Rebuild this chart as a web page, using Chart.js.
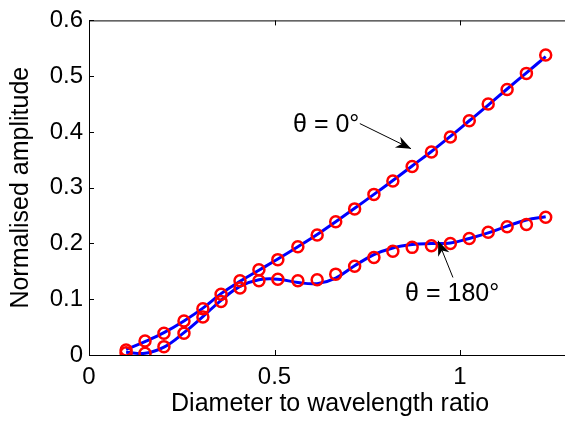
<!DOCTYPE html>
<html>
<head>
<meta charset="utf-8">
<script src="https://cdn.jsdelivr.net/npm/chart.js@4"></script>
<style>
    html, body { margin: 0; padding: 0; background: #fff; overflow: hidden; }
    #wrap { width: 565px; height: 423px; overflow: hidden; }
    #wrap div { width: 585px; height: 423px; }
</style>
</head>
<body>
<div id="wrap"><div><canvas id="ampChart" width="585" height="423"></canvas></div></div>
<script>
// diameter / wavelength ratio for each measured point
const ratio = [0.100, 0.151, 0.202, 0.256, 0.307, 0.356, 0.407, 0.458, 0.509, 0.563, 0.615, 0.665,
               0.716, 0.768, 0.819, 0.871, 0.923, 0.974, 1.025, 1.076, 1.127, 1.179, 1.231];

// theta = 0 deg
const measured0 = [0.009, 0.025, 0.039, 0.061, 0.083, 0.109, 0.133, 0.153, 0.171, 0.194, 0.215, 0.239,
                   0.262, 0.288, 0.312, 0.338, 0.364, 0.391, 0.420, 0.450, 0.476, 0.505, 0.538];
const model0 = [0.010, 0.024, 0.040, 0.061, 0.084, 0.110, 0.132, 0.152, 0.172, 0.194, 0.216, 0.239,
                0.263, 0.288, 0.313, 0.339, 0.365, 0.392, 0.420, 0.448, 0.477, 0.506, 0.535];

// theta = 180 deg
const measured180 = [0.004, 0.003, 0.015, 0.039, 0.068, 0.096, 0.120, 0.133, 0.136, 0.133, 0.135, 0.145,
                     0.159, 0.175, 0.186, 0.193, 0.196, 0.200, 0.209, 0.220, 0.230, 0.234, 0.247];
const model180 = [0.005, 0.003, 0.014, 0.040, 0.069, 0.098, 0.123, 0.135, 0.136, 0.130, 0.128, 0.138,
                  0.160, 0.180, 0.192, 0.198, 0.200, 0.201, 0.209, 0.219, 0.231, 0.242, 0.248];

const xTicks = [0, 0.5, 1];
const yTicks = [0, 0.1, 0.2, 0.3, 0.4, 0.5, 0.6];

const FONT = "'Liberation Sans', Arial, sans-serif";

const pts = (ys) => ratio.map((x, i) => ({ x: x, y: ys[i] }));

// box + inward ticks, matlab style
const boxPlugin = {
    id: 'box',
    afterDraw(chart) {
        const { ctx, chartArea: a, scales } = chart;
        ctx.save();
        ctx.strokeStyle = '#000';
        ctx.lineWidth = 1;
        ctx.strokeRect(a.left + 0.5, a.top + 0.5, a.right - a.left, a.bottom - a.top);
        ctx.beginPath();
        xTicks.forEach(v => {
            const px = Math.round(scales.x.getPixelForValue(v)) + 0.5;
            ctx.moveTo(px, a.bottom); ctx.lineTo(px, a.bottom - 5);
            ctx.moveTo(px, a.top); ctx.lineTo(px, a.top + 5);
        });
        yTicks.forEach(v => {
            const py = Math.round(scales.y.getPixelForValue(v)) + 0.5;
            ctx.moveTo(a.left, py); ctx.lineTo(a.left + 5, py);
            ctx.moveTo(a.right, py); ctx.lineTo(a.right - 5, py);
        });
        ctx.stroke();
        ctx.restore();
    }
};

// text labels with arrows (positions in data units)
const notes = [
    { text: 'θ = 0°', tx: 0.55, ty: 0.413, from: [0.730, 0.415], to: [0.868, 0.370] },
    { text: 'θ = 180°', tx: 0.852, ty: 0.110, from: [0.981, 0.139], to: [0.941, 0.205] }
];

const notePlugin = {
    id: 'notes',
    afterDatasetsDraw(chart) {
        const { ctx, scales } = chart;
        ctx.save();
        ctx.fillStyle = '#000';
        ctx.strokeStyle = '#000';
        ctx.font = '25px ' + FONT;
        ctx.textBaseline = 'middle';
        ctx.textAlign = 'left';
        notes.forEach(n => {
            ctx.fillText(n.text, scales.x.getPixelForValue(n.tx), scales.y.getPixelForValue(n.ty));
            const x1 = scales.x.getPixelForValue(n.from[0]), y1 = scales.y.getPixelForValue(n.from[1]);
            const x2 = scales.x.getPixelForValue(n.to[0]), y2 = scales.y.getPixelForValue(n.to[1]);
            const ang = Math.atan2(y2 - y1, x2 - x1);
            ctx.lineWidth = 1;
            ctx.beginPath();
            ctx.moveTo(x1, y1); ctx.lineTo(x2, y2);
            ctx.stroke();
            // arrow head
            const L = 15, W = 6;
            ctx.beginPath();
            ctx.moveTo(x2, y2);
            ctx.lineTo(x2 - L * Math.cos(ang) + W * Math.sin(ang), y2 - L * Math.sin(ang) - W * Math.cos(ang));
            ctx.lineTo(x2 - 0.7 * L * Math.cos(ang), y2 - 0.7 * L * Math.sin(ang));
            ctx.lineTo(x2 - L * Math.cos(ang) - W * Math.sin(ang), y2 - L * Math.sin(ang) + W * Math.cos(ang));
            ctx.closePath();
            ctx.fill();
        });
        ctx.restore();
    }
};

const lineStyle = {
    borderColor: '#0000ff', borderWidth: 3, pointRadius: 0, tension: 0.4,
    fill: false, showLine: true, order: 2
};
const markStyle = {
    borderColor: '#ff0000', backgroundColor: 'rgba(0,0,0,0)', borderWidth: 2.5,
    pointRadius: 5.5, showLine: false, order: 1
};

new Chart(document.getElementById('ampChart'), {
    type: 'scatter',
    data: {
        datasets: [
            { ...markStyle, label: 'measured 0', data: pts(measured0) },
            { ...markStyle, label: 'measured 180', data: pts(measured180) },
            { ...lineStyle, label: 'model 0', data: pts(model0) },
            { ...lineStyle, label: 'model 180', data: pts(model180) }
        ]
    },
    options: {
        responsive: false,
        animation: false,
        events: [],
        layout: { padding: { top: 18, right: 13.7, left: 0, bottom: 0 } },
        plugins: { legend: { display: false }, tooltip: { enabled: false } },
        scales: {
            x: {
                type: 'linear', min: 0, max: 1.3,
                afterBuildTicks: s => { s.ticks = xTicks.map(v => ({ value: v })); },
                afterFit: s => { s.height = 68; },
                grid: { display: false, drawTicks: false },
                border: { display: false },
                ticks: { color: '#000', font: { family: FONT, size: 24 }, padding: 8, maxRotation: 0,
                         callback: v => String(v) },
                title: { display: true, text: 'Diameter to wavelength ratio', color: '#000',
                         font: { family: FONT, size: 25 }, padding: { top: 3 } }
            },
            y: {
                type: 'linear', min: 0, max: 0.6,
                afterBuildTicks: s => { s.ticks = yTicks.map(v => ({ value: v })); },
                afterFit: s => { s.width = 89; },
                grid: { display: false, drawTicks: false },
                border: { display: false },
                ticks: { color: '#000', font: { family: FONT, size: 24 }, padding: 6,
                         callback: v => String(v) },
                title: { display: true, text: 'Normalised amplitude', color: '#000',
                         font: { family: FONT, size: 25 }, padding: { bottom: 0, top: 6 } }
            }
        }
    },
    plugins: [boxPlugin, notePlugin]
});
</script>
</body>
</html>
